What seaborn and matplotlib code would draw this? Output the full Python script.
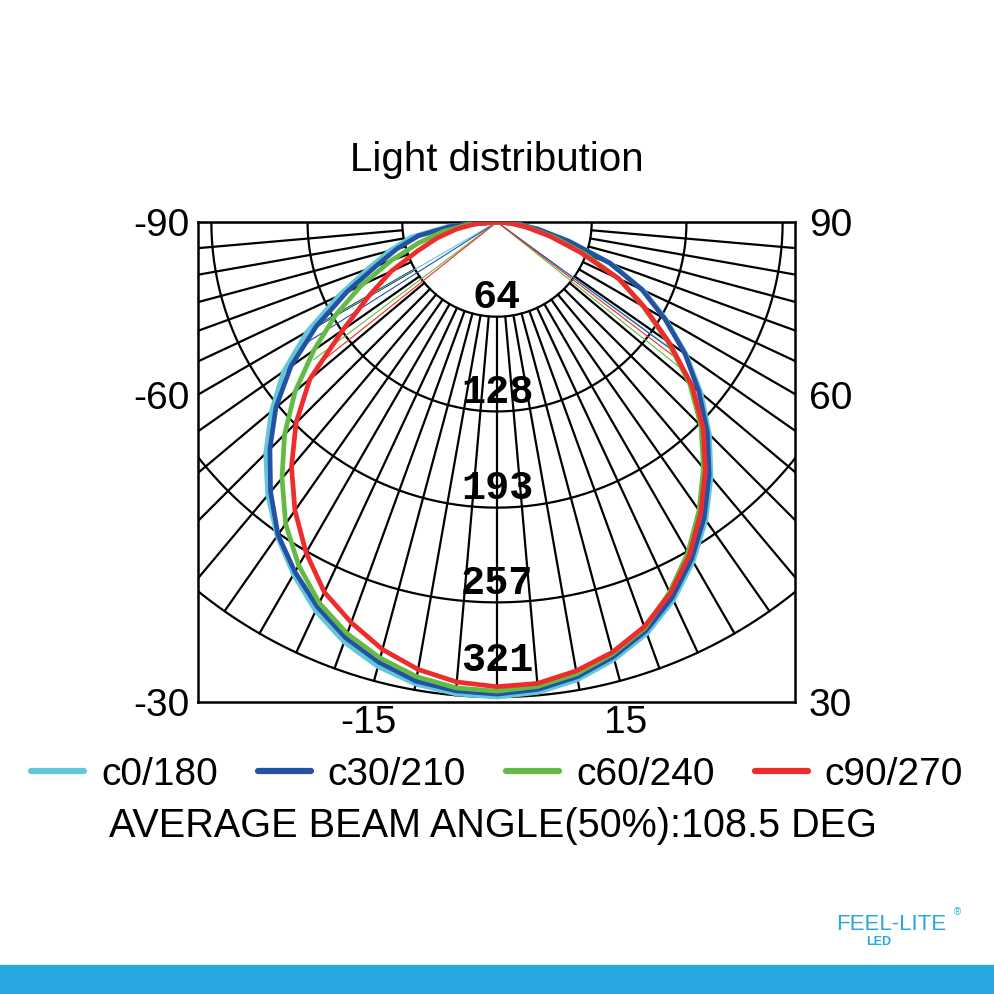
import numpy as np
import pandas as pd
import matplotlib
matplotlib.use("Agg")
import matplotlib.pyplot as plt
from matplotlib.lines import Line2D
from matplotlib.patches import Rectangle
import seaborn as sns

# ========== DATA ==========
# angles measured from the downward vertical, negative = left half
ANGLES = list(range(-90, 91, 5))

C0_180 = [0, 33, 59, 75, 93, 118, 148, 176, 199, 221, 241, 259, 275, 290, 302, 311, 317, 320,
          321,
          319, 314, 306, 296, 282, 265, 246, 225, 203, 180, 156, 132, 109, 82, 51, 29, 14, 0]
C30_210 = [0, 30, 54, 70, 87, 112, 141, 170, 195, 217, 238, 258, 273, 287, 299, 308, 315, 318,
           319,
           317, 312, 304, 294, 280, 263, 244, 223, 201, 178, 155, 131, 108, 81, 50, 28, 13, 0]
C60_240 = [0, 19, 37, 55, 76, 101, 126, 151, 178, 203, 226, 249, 268, 284, 296, 305, 312, 316,
           317,
           315, 310, 302, 292, 276, 258, 238, 217, 195, 170, 141, 114, 91, 63, 40, 22, 10, 0]
C90_270 = [0, 15, 28, 42, 57, 79, 100, 127, 165, 192, 216, 238, 258, 276, 288, 299, 307, 312,
           314,
           313, 308, 301, 291, 277, 260, 240, 219, 197, 172, 142, 115, 91, 60, 37, 20, 9, 0]

SERIES_NAMES = ["c0/180", "c30/210", "c60/240", "c90/270"]
SERIES_VALUES = [C0_180, C30_210, C60_240, C90_270]
SERIES_COLORS = ["#63c7d9", "#2352a5", "#63bb45", "#ee2c2c"]

# 50% beam lines (angle, length) per series
BEAM_LEFT = [-60.0, -57.6, -53.1, -51.5]
BEAM_LEFT_LEN = [150, 157, 155, 156]
BEAM_RIGHT = [54.0, 53.8, 51.5, 52.8]
BEAM_RIGHT_LEN = [148, 146, 157, 150]
AVERAGE_BEAM = 108.5

RING_VALUES = [64, 128, 193, 257, 321]
SPOKE_ANGLES = list(range(-90, 91, 5))
SIDE_TICK_ANGLES = [90, 60, 30]
BOTTOM_TICK_ANGLES = [-15, 15]

# ========== LAYOUT ==========
W = 994
SCALE = 1.48                      # px per cd
ORIGIN_PX = (497, 222)
BOX_PX = (198, 222, 795, 702)     # left, top, right, bottom
X_MIN = (BOX_PX[0] - ORIGIN_PX[0]) / SCALE
X_MAX = (BOX_PX[2] - ORIGIN_PX[0]) / SCALE
Y_MIN = (ORIGIN_PX[1] - BOX_PX[3]) / SCALE
R_LIM = 330
GRID_LW = 1.6

sns.set_style("white")
plt.rcParams["font.family"] = ["Liberation Sans", "DejaVu Sans"]
plt.rcParams["text.color"] = "black"
plt.rcParams["xtick.color"] = "black"
plt.rcParams["ytick.color"] = "black"

fig = plt.figure(figsize=(W / 100, W / 100), dpi=100)

# rectangular frame with the angle labels
ax = fig.add_axes([BOX_PX[0] / W, 1 - BOX_PX[3] / W,
                   (BOX_PX[2] - BOX_PX[0]) / W, (BOX_PX[3] - BOX_PX[1]) / W])
ax.set_xlim(X_MIN, X_MAX)
ax.set_ylim(Y_MIN, 0)
for s in ax.spines.values():
    s.set_color("black")
    s.set_linewidth(1.8)
    s.set_visible(True)

side_y = [max(Y_MIN, X_MIN / np.tan(np.radians(a))) for a in SIDE_TICK_ANGLES]
ax.set_yticks(side_y)
ax.set_yticklabels([f"-{a}" for a in SIDE_TICK_ANGLES])
ax.set_xticks([-Y_MIN * np.tan(np.radians(a)) for a in BOTTOM_TICK_ANGLES])
ax.set_xticklabels([str(a) for a in BOTTOM_TICK_ANGLES])
ax.tick_params(axis="y", length=0, pad=6, labelsize=28)
ax.tick_params(axis="x", length=0, pad=2, labelsize=28)

ax2 = ax.twinx()
ax2.set_ylim(ax.get_ylim())
ax2.set_yticks(side_y)
ax2.set_yticklabels([str(a) for a in SIDE_TICK_ANGLES])
ax2.tick_params(axis="y", length=0, pad=10, labelsize=28)
for s in ax2.spines.values():
    s.set_visible(False)

for ring in RING_VALUES:
    pad = 25 if ring == RING_VALUES[-1] else 13
    ax.text(0, -(ring - pad), str(ring), ha="center", va="center",
            family="Liberation Mono", weight="bold", fontsize=29, zorder=3)

# polar axes centred on the origin, clipped by the rectangle
r_px = R_LIM * SCALE
axp = fig.add_axes([(ORIGIN_PX[0] - r_px) / W, 1 - (ORIGIN_PX[1] + r_px) / W,
                    2 * r_px / W, 2 * r_px / W], projection="polar")
axp.set_theta_zero_location("S")
axp.set_ylim(0, R_LIM)
axp.axis("off")
axp.patch.set_alpha(0)

arc = np.radians(np.linspace(-90, 90, 181))
for ring in RING_VALUES:
    axp.plot(arc, np.full_like(arc, ring), color="black", lw=GRID_LW)
for a in SPOKE_ANGLES:
    axp.plot(np.radians([a, a]), [RING_VALUES[0], RING_VALUES[-1]], color="black", lw=GRID_LW)

for i, color in enumerate(SERIES_COLORS):
    for ang, ln in ((BEAM_LEFT[i], BEAM_LEFT_LEN[i]), (BEAM_RIGHT[i], BEAM_RIGHT_LEN[i])):
        axp.plot(np.radians([ang, ang]), [0, ln], color=color, lw=0.8)

frames = []
for name, vals in zip(SERIES_NAMES, SERIES_VALUES):
    frames.append(pd.DataFrame({"theta": np.radians(ANGLES), "r": vals, "series": name}))
df = pd.concat(frames, ignore_index=True)
sns.lineplot(data=df, x="theta", y="r", hue="series", hue_order=SERIES_NAMES,
             palette=SERIES_COLORS, sort=False, estimator=None, lw=3.4,
             legend=False, ax=axp)
axp.set_ylim(0, R_LIM)

for line in axp.lines:
    line.set_clip_path(ax.patch)
    line.set_solid_joinstyle("round")

# title, legend, beam angle note
fig.text(0.5, 1 - 160 / W, "Light distribution", ha="center", va="center", fontsize=29)

handles = [Line2D([0], [0], color=c, lw=4.5) for c in SERIES_COLORS]
fig.legend(handles, SERIES_NAMES, loc="center", bbox_to_anchor=(0.5, 1 - 775 / W),
           ncol=4, frameon=False, fontsize=28, handlelength=1.36,
           handletextpad=0.44, columnspacing=1.03, borderaxespad=0, borderpad=0)

fig.text(0.496, 1 - 826 / W, f"AVERAGE BEAM ANGLE(50%):{AVERAGE_BEAM} DEG",
         ha="center", va="center", fontsize=28.5)

# footer band and logo
fig.patches.append(Rectangle((0, 0), 1, 29 / W, transform=fig.transFigure,
                             color="#27a8e0", zorder=0))
fig.text(891 / W, 1 - 925 / W, "FEEL-LITE", ha="center", va="center",
         fontsize=16, color="#27a8e0")
fig.text(879 / W, 1 - 942 / W, "LED", ha="center", va="center",
         fontsize=9, weight="bold", color="#27a8e0")
fig.text(957 / W, 1 - 912 / W, "®", ha="center", va="center",
         fontsize=7, color="#27a8e0")

fig.savefig("out.png", dpi=100)
plt.close(fig)
